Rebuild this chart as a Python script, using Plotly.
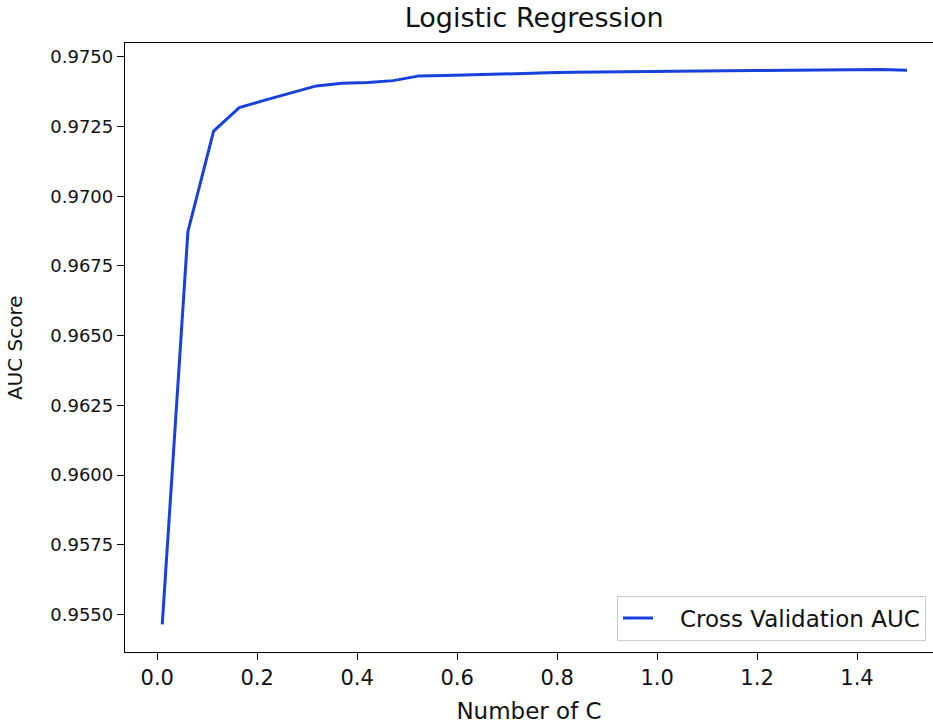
import plotly.graph_objects as go

# Data
c_values = [0.01, 0.0614, 0.1128, 0.1641, 0.2155, 0.2669, 0.3183, 0.3697, 0.4210, 0.4724,
            0.5238, 0.5752, 0.6266, 0.6779, 0.7293, 0.7807, 0.8321, 0.8834, 0.9348, 0.9862,
            1.0376, 1.0890, 1.1403, 1.1917, 1.2431, 1.2945, 1.3459, 1.3972, 1.4486, 1.5000]
cv_auc = [0.95464, 0.96874, 0.97234, 0.97318, 0.97345, 0.97370, 0.97396, 0.97406, 0.97408, 0.97415,
          0.97432, 0.97433, 0.97436, 0.97439, 0.97441, 0.97443, 0.97445, 0.97447, 0.97447, 0.97448,
          0.97448, 0.97448, 0.97450, 0.97451, 0.97452, 0.97453, 0.97455, 0.97456, 0.97455, 0.97452]

title_text = "Logistic Regression"
x_label = "Number of C"
y_label = "AUC Score"
legend_label = "Cross Validation AUC"

FONT = "DejaVu Sans"
W, H = 933, 724
L, T, B = 124.5, 43, 652.5
plot_w = W - L
plot_h = B - T

fig = go.Figure()
fig.add_trace(go.Scatter(x=c_values, y=cv_auc, mode="lines",
                         name="\u00a0\u00a0\u00a0" + legend_label,
                         line=dict(color="#1941DC", width=3)))

fig.update_layout(
    width=W, height=H,
    margin=dict(l=L, r=0, t=T, b=H - B, pad=0),
    paper_bgcolor="white", plot_bgcolor="white",
    font=dict(family=FONT, color="#111111", size=20),
    title=dict(text=title_text, font=dict(size=27, family=FONT, color="#111111"),
               xref="paper", x=(534 - L) / plot_w, xanchor="center",
               yref="container", y=1 - 8 / H, yanchor="top"),
    showlegend=True,
    legend=dict(x=(926 - L) / plot_w, y=(B - 641) / plot_h, xanchor="right", yanchor="bottom",
                bgcolor="white", bordercolor="#cccccc", borderwidth=1,
                font=dict(size=23, family=FONT, color="#111111"), itemwidth=30),
    xaxis=dict(range=[-0.0645, 0.01 + (W - 162) / 500.0], tick0=0, dtick=0.2, tickformat=".1f",
               showgrid=False, zeroline=False, showline=True, linecolor="black", linewidth=1.3,
               mirror=True, ticks="outside", ticklen=7, tickwidth=1.3, tickcolor="black",
               tickfont=dict(size=21, family=FONT, color="#111111"),
               title=dict(text=x_label, font=dict(size=23, family=FONT, color="#111111"), standoff=14)),
    yaxis=dict(range=[0.95365, 0.97550], tick0=0.955, dtick=0.0025, tickformat=".4f",
               showgrid=False, zeroline=False, showline=True, linecolor="black", linewidth=1.3,
               mirror=False, ticks="outside", ticklen=7, tickwidth=1.3, tickcolor="black",
               tickfont=dict(size=18, family=FONT, color="#111111")),
)

fig.add_annotation(text=y_label, textangle=-90, xref="paper", yref="paper",
                   x=(0 - L) / plot_w, y=0.5, xanchor="left", yanchor="middle",
                   showarrow=False, font=dict(size=20, family=FONT, color="#111111"))

fig.write_html("out.html")
